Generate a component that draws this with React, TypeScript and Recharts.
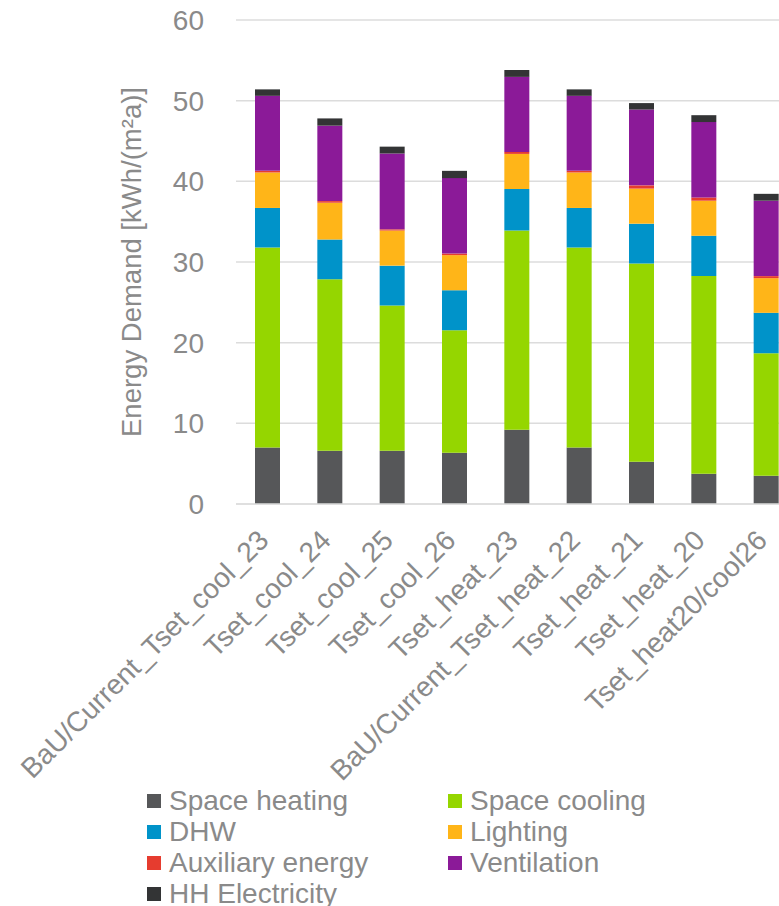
import React from 'react';
import { BarChart, Bar, XAxis, YAxis, CartesianGrid, Legend } from 'recharts';

const categories = [
  'BaU/Current_Tset_cool_23',
  'Tset_cool_24',
  'Tset_cool_25',
  'Tset_cool_26',
  'Tset_heat_23',
  'BaU/Current_Tset_heat_22',
  'Tset_heat_21',
  'Tset_heat_20',
  'Tset_heat20/cool26',
];
const spaceHeating = [7.0, 6.6, 6.6, 6.35, 9.2, 7.0, 5.25, 3.75, 3.5];
const spaceCooling = [24.8, 21.25, 18.0, 15.2, 24.7, 24.8, 24.55, 24.5, 15.2];
const dhw = [4.9, 4.95, 4.95, 4.95, 5.15, 4.9, 4.95, 5.0, 5.0];
const lighting = [4.4, 4.55, 4.35, 4.35, 4.35, 4.4, 4.35, 4.35, 4.3];
const auxiliary = [0.2, 0.2, 0.15, 0.2, 0.25, 0.2, 0.4, 0.4, 0.25];
const ventilation = [9.3, 9.35, 9.4, 9.35, 9.3, 9.3, 9.4, 9.35, 9.35];
const hhElectricity = [0.8, 0.9, 0.85, 0.9, 0.85, 0.8, 0.8, 0.85, 0.85];
const yTicks = [0, 10, 20, 30, 40, 50, 60];

const series = [
  { key: 'Space heating', values: spaceHeating, color: '#565759' },
  { key: 'Space cooling', values: spaceCooling, color: '#95d600' },
  { key: 'DHW', values: dhw, color: '#0093c9' },
  { key: 'Lighting', values: lighting, color: '#ffb518' },
  { key: 'Auxiliary energy', values: auxiliary, color: '#e63c2f' },
  { key: 'Ventilation', values: ventilation, color: '#8b1a98' },
  { key: 'HH Electricity', values: hhElectricity, color: '#333435' },
];
const seriesOrder = series.map((s) => s.key);

const data = categories.map((name, i) => {
  const row: Record<string, string | number> = { name };
  series.forEach((s) => {
    row[s.key] = s.values[i];
  });
  return row;
});

const TEXT = '#8a8a8a';
const FONT = '"Liberation Sans", Arial, sans-serif';

const LegendContent = (props: any) => {
  const payload = [...(props.payload || [])].sort(
    (a: any, b: any) => seriesOrder.indexOf(a.value) - seriesOrder.indexOf(b.value)
  );
  return (
    <div
      style={{
        display: 'grid',
        gridTemplateColumns: '301px 301px',
        gridAutoRows: '31px',
        fontFamily: FONT,
        fontSize: 28,
        color: TEXT,
      }}
    >
      {payload.map((p: any) => (
        <div key={p.value} style={{ display: 'flex', alignItems: 'center', whiteSpace: 'nowrap' }}>
          <span style={{ width: 14, height: 14, background: p.color, display: 'inline-block', marginRight: 8, flex: 'none' }} />
          <span>{p.value}</span>
        </div>
      ))}
    </div>
  );
};

const XTick = (props: any) => {
  const { x, payload } = props;
  const ax = x + 3;
  const ay = 542;
  return (
    <text
      x={ax}
      y={ay}
      transform={`rotate(-45, ${ax}, ${ay})`}
      textAnchor="end"
      fill={TEXT}
      fontSize={28}
      fontFamily={FONT}
    >
      {payload.value}
    </text>
  );
};

export default function App() {
  return (
    <div style={{ position: 'absolute', left: 0, top: 0, width: 779, height: 906, overflow: 'hidden', background: '#fff' }}>
      <BarChart
        width={800}
        height={906}
        data={data}
        margin={{ top: 20, right: 3, bottom: 0, left: 0 }}
        barSize={25}
      >
        <CartesianGrid horizontal vertical={false} stroke="#dcdcdc" strokeWidth={1.5} />
        <XAxis
          dataKey="name"
          height={402}
          interval={0}
          tickLine={false}
          axisLine={{ stroke: '#dcdcdc', strokeWidth: 1.5 }}
          tickSize={0}
          tick={<XTick />}
        />
        <YAxis
          width={236}
          domain={[0, 60]}
          ticks={yTicks}
          tickLine={false}
          axisLine={false}
          tickSize={0}
          tickMargin={32}
          tick={{ fill: TEXT, fontSize: 28, fontFamily: FONT }}
          label={{
            value: 'Energy Demand [kWh/(m²a)]',
            angle: -90,
            position: 'center',
            dx: 13,
            fill: TEXT,
            fontSize: 27.5,
            fontFamily: FONT,
          }}
        />
        <Legend
          layout="horizontal"
          verticalAlign="middle"
          align="center"
          wrapperStyle={{ position: 'absolute', top: 785, left: 147, width: 620 }}
          content={LegendContent}
        />
        {series.map((s) => (
          <Bar key={s.key} dataKey={s.key} stackId="a" fill={s.color} isAnimationActive={false} />
        ))}
      </BarChart>
    </div>
  );
}
